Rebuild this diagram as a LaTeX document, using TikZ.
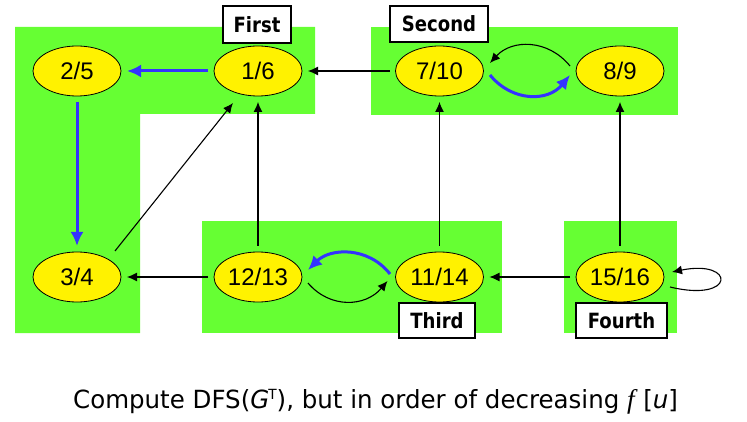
\documentclass[tikz,border=0pt]{standalone}
\usepackage{fontspec}
\setmainfont{Liberation Sans}
\newfontfamily\lblfont{DejaVu Sans}[FakeStretch=0.86]
\newfontfamily\capfont{DejaVu Sans}[FakeStretch=0.98]
\newfontfamily\serfont{Liberation Serif}
\usetikzlibrary{shapes.geometric,arrows.meta,calc}
\definecolor{grn}{RGB}{102,255,51}
\definecolor{blu}{RGB}{51,51,255}
\tikzset{
  vtx/.style={ellipse,draw=black,line width=0.8pt,fill=yellow,minimum width=88pt,minimum height=50pt,inner sep=0pt,outer sep=6pt,font=\fontsize{24}{26}\selectfont},
  tag/.style={draw=black,line width=1.2pt,fill=white,inner sep=0pt,font=\lblfont\bfseries\fontsize{21}{24}\selectfont},
  bk/.style={draw=black,line width=1.1pt,-{Latex[length=10pt,width=9pt]}},
  bl/.style={draw=blu,line width=3pt,-{Latex[length=14pt,width=13pt]}},
  zone/.style={fill=grn,draw=none}
}
\begin{document}
\begin{tikzpicture}[x=1pt,y=-1pt]
\useasboundingbox (0,0) rectangle (747,422);
% green regions
\path[zone] (15,27) -- (315,27) -- (315,114) -- (140,114) -- (140,333) -- (15,333) -- cycle;
\path[zone] (202,221) rectangle (502,333);
\path[zone] (371,27) rectangle (678,115);
\path[zone] (564,221) rectangle (677,333);
% vertices
\node[vtx] (n25) at (77,71) {2/5};
\node[vtx] (n16) at (258,71) {1/6};
\node[vtx] (n34) at (77,277) {3/4};
\node[vtx] (n1213) at (258,277) {12/13};
\node[vtx] (n710) at (439.5,71) {7/10};
\node[vtx] (n89) at (620,71) {8/9};
\node[vtx] (n1114) at (439.5,277) {11/14};
\node[vtx] (n1516) at (620,277) {15/16};
% tags
\node[tag,minimum width=68pt,minimum height=37pt] (tfirst) at (257,24.5) {First};
\node[tag,minimum width=98pt,minimum height=36pt] (tsecond) at (439,24) {Second};
\node[tag,minimum width=76pt,minimum height=35pt] (tthird) at (437,320.5) {Third};
\node[tag,minimum width=91pt,minimum height=35pt] (tfourth) at (621.5,320.5) {Fourth};
% straight edges
\draw[bl] (n16.west) -- (n25.east);
\draw[bl] (n25.south) -- (n34.north);
\draw[bk] ($(n34)+(38,-26)$) -- ($(n16)+(-25,32)$);
\draw[bk] (n1213.north) -- (n16.south);
\draw[bk] (n1213.west) -- (n34.east);
\draw[bk] (n710.west) -- (n16.east);
\draw[bk] (n1114.north) -- (n710.south);
\draw[bk] (n89.south |- n1516.north) -- (n89.south);
\draw[bk] (n1516.west) -- (n1114.east);
% curved edges
\coordinate (a1) at ($(n710)+(50.5,4)$);
\coordinate (a2) at ($(n89)+(-50,4)$);
\draw[bl] (a1) .. controls +(22,27) and +(-22,27) .. (a2);
\coordinate (b1) at ($(n89)+(-50,-5)$);
\coordinate (b2) at ($(n710)+(50.5,-8)$);
\draw[bk] (b1) .. controls +(-22,-27) and +(22,-24) .. (b2);
\coordinate (c1) at ($(n1114)+(-49.5,-3)$);
\coordinate (c2) at ($(n1213)+(50,-7)$);
\draw[bl] (c1) .. controls +(-22,-28) and +(22,-22) .. (c2);
\coordinate (d1) at ($(n1213)+(50,6)$);
\coordinate (d2) at ($(n1114)+(-52,4)$);
\draw[bk] (d1) .. controls +(22,26) and +(-22,26) .. (d2);
\coordinate (e1) at ($(n1516)+(50,10)$);
\coordinate (e2) at ($(n1516)+(52,-5)$);
\draw[bk] (e1) .. controls +(66,16) and +(64,-13) .. (e2);
% caption
\node[anchor=base west,inner sep=0pt,font=\capfont\fontsize{25}{28}\selectfont] (cap) at (73,408)
  {Compute DFS(\textit{G}\hspace{-1pt}\raisebox{9pt}{\fontsize{14}{14}\selectfont T}), but in order of decreasing {\serfont\itshape\fontsize{27}{28}\selectfont f\,}\,[\textit{u}]};
\end{tikzpicture}
\end{document}
